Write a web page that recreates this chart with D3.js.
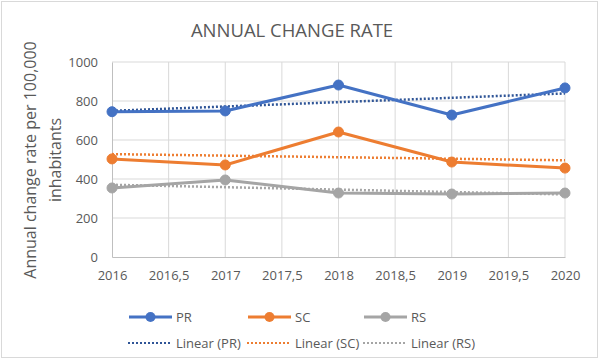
<!DOCTYPE html>
<html><head><meta charset="utf-8">
<script src="https://cdn.jsdelivr.net/npm/d3@7"></script>
<style>body{margin:0;background:#fff}svg{display:block;font-family:"Open Sans",sans-serif}</style>
</head><body><svg id="c" width="600" height="360"></svg>
<script>
const years = [2016, 2017, 2018, 2019, 2020];
const PR = [745, 749, 882, 728, 867];
const SC = [503, 472, 641, 487, 456];
const RS = [354, 395, 328, 323, 328];
const seriesNames = ["PR", "SC", "RS"];
const xTicks = [2016, 2016.5, 2017, 2017.5, 2018, 2018.5, 2019, 2019.5, 2020];
const yTicks = [0, 200, 400, 600, 800, 1000];
const title = "ANNUAL CHANGE RATE";
const yTitle = ["Annual change rate per 100,000", "inhabitants"];

const colors = {PR: "#4472C4", SC: "#ED7D31", RS: "#A5A5A5"};
const trendColors = {PR: "#2F5597", SC: "#ED7D31", RS: "#A5A5A5"};
const data = {PR, SC, RS};

const svg = d3.select("#c");
svg.append("rect").attr("x",1.5).attr("y",1.5).attr("width",596).attr("height",356)
  .attr("fill","#fff").attr("stroke","#d9d9d9");

const x = d3.scaleLinear().domain([2016, 2020]).range([112, 565]);
const y = d3.scaleLinear().domain([0, 1000]).range([257, 62]);

// gridlines
svg.append("g").selectAll("line").data(yTicks.filter(d=>d>0)).join("line")
  .attr("x1", x(2016)).attr("x2", x(2020)).attr("y1", d=>y(d)).attr("y2", d=>y(d))
  .attr("stroke", "#d9d9d9").attr("stroke-width", 1);
svg.append("g").selectAll("line").data(xTicks.slice(1)).join("line")
  .attr("x1", d=>x(d)).attr("x2", d=>x(d)).attr("y1", y(0)).attr("y2", y(1000))
  .attr("stroke", "#d9d9d9").attr("stroke-width", 1);

// axes
const fmt = d => String(d).replace(".", ",");
const xa = svg.append("g").attr("transform", `translate(0,${y(0)})`)
  .call(d3.axisBottom(x).tickValues(xTicks).tickFormat(fmt).tickSize(0).tickPadding(14));
xa.select(".domain").attr("stroke", "#bfbfbf");
const ya = svg.append("g").attr("transform", `translate(${x(2016)},0)`)
  .call(d3.axisLeft(y).tickValues(yTicks).tickFormat(d => String(d)).tickSize(0).tickPadding(14));
ya.select(".domain").attr("stroke", "#bfbfbf");
svg.selectAll(".tick text").attr("fill", "#595959").attr("font-size", 13)
  .attr("font-family", "'Open Sans', sans-serif");

// title
svg.append("text").attr("x", 292).attr("y", 37).attr("text-anchor", "middle")
  .attr("font-size", 18.5).attr("fill", "#595959").text(title);

// y title
const yt = svg.append("text").attr("transform", "translate(36,160) rotate(-90)")
  .attr("text-anchor", "middle").attr("font-size", 16).attr("fill", "#595959");
yt.append("tspan").attr("x", 0).attr("dy", 0).text(yTitle[0]);
yt.append("tspan").attr("x", 0).attr("dy", 25).text(yTitle[1]);

// trendlines (least squares fit)
function fit(vals) {
  const mx = d3.mean(years), my = d3.mean(vals);
  const b = d3.sum(years, (t,i)=>(t-mx)*(vals[i]-my)) / d3.sum(years, t=>(t-mx)**2);
  return t => my + b*(t-mx);
}
seriesNames.forEach(s => {
  const f = fit(data[s]);
  svg.append("line").attr("x1", x(2016)).attr("x2", x(2020))
    .attr("y1", y(f(2016))).attr("y2", y(f(2020)))
    .attr("stroke", trendColors[s]).attr("stroke-width", 2.5).attr("stroke-dasharray", "2,2");
});

// series
const line = d3.line().x((d,i)=>x(years[i])).y(d=>y(d));
seriesNames.forEach(s => {
  svg.append("path").datum(data[s]).attr("d", line).attr("fill", "none")
    .attr("stroke", colors[s]).attr("stroke-width", 3).attr("stroke-linejoin", "round");
  svg.append("g").selectAll("circle").data(data[s]).join("circle")
    .attr("cx", (d,i)=>x(years[i])).attr("cy", d=>y(d)).attr("r", 5)
    .attr("fill", colors[s]).attr("stroke", colors[s]);
});

// legend
const legX = [129, 248, 364];
seriesNames.forEach((s, i) => {
  const g = svg.append("g");
  g.append("line").attr("x1", legX[i]).attr("x2", legX[i]+43).attr("y1", 317).attr("y2", 317)
    .attr("stroke", colors[s]).attr("stroke-width", 3);
  g.append("circle").attr("cx", legX[i]+21.5).attr("cy", 317).attr("r", 5).attr("fill", colors[s]);
  g.append("text").attr("x", legX[i]+47).attr("y", 322).attr("font-size", 13).attr("fill", "#595959").text(s);
  const g2 = svg.append("g");
  g2.append("line").attr("x1", legX[i]-1).attr("x2", legX[i]+43).attr("y1", 343).attr("y2", 343)
    .attr("stroke", trendColors[s]).attr("stroke-width", 2).attr("stroke-dasharray", "2,2");
  g2.append("text").attr("x", legX[i]+47).attr("y", 348).attr("font-size", 13).attr("fill", "#595959")
    .text(`Linear (${s})`);
});
</script></body></html>
